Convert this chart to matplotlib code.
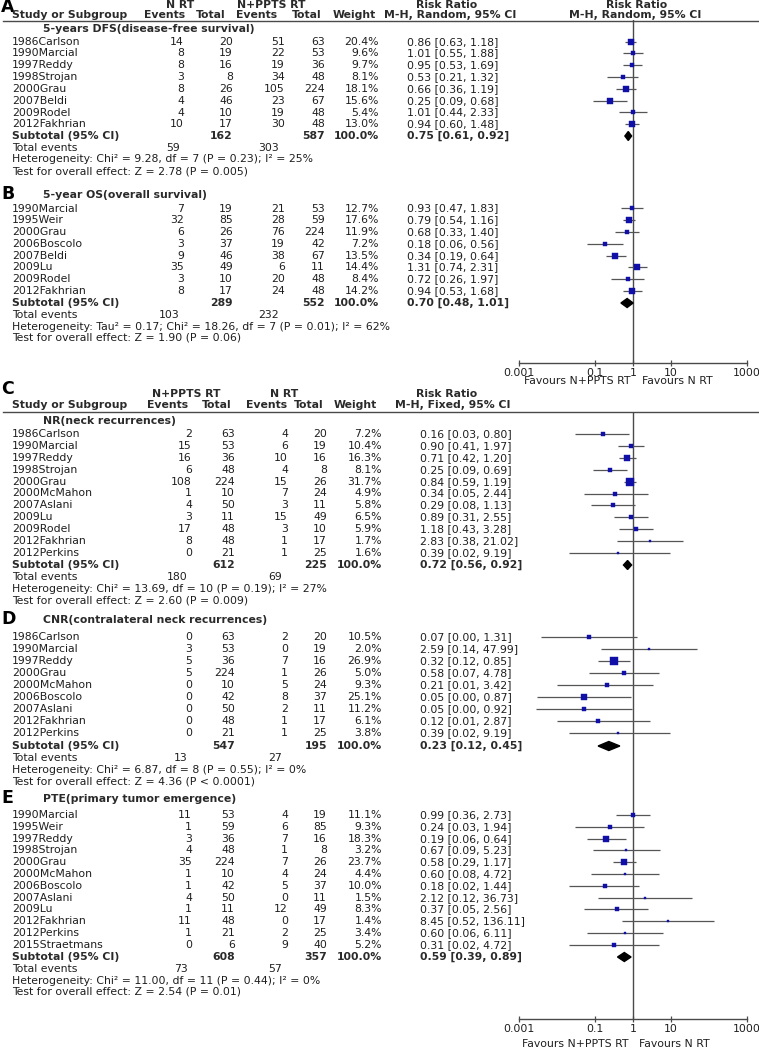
import matplotlib
matplotlib.use('Agg')
import matplotlib.pyplot as plt
import numpy as np
from matplotlib.ticker import NullLocator

plt.rcParams['font.family'] = ['DejaVu Sans']

# ---------------- DATA ----------------
# Panel A: 5-years DFS (N RT vs N+PPTS RT), random effects
a_title = "5-years DFS(disease-free survival)"
a_studies = ["1986Carlson", "1990Marcial", "1997Reddy", "1998Strojan", "2000Grau", "2007Beldi", "2009Rodel", "2012Fakhrian"]
a_ev1 = [14, 8, 8, 3, 8, 4, 4, 10]
a_tot1 = [20, 19, 16, 8, 26, 46, 10, 17]
a_ev2 = [51, 22, 19, 34, 105, 23, 19, 30]
a_tot2 = [63, 53, 36, 48, 224, 67, 48, 48]
a_weight = [20.4, 9.6, 9.7, 8.1, 18.1, 15.6, 5.4, 13.0]
a_rr = [0.86, 1.01, 0.95, 0.53, 0.66, 0.25, 1.01, 0.94]
a_lo = [0.63, 0.55, 0.53, 0.21, 0.36, 0.09, 0.44, 0.60]
a_hi = [1.18, 1.88, 1.69, 1.32, 1.19, 0.68, 2.33, 1.48]
a_sub = [162, 587, 0.75, 0.61, 0.92]
a_events = [59, 303]
a_het = "Heterogeneity: Chi² = 9.28, df = 7 (P = 0.23); I² = 25%"
a_test = "Test for overall effect: Z = 2.78 (P = 0.005)"

# Panel B: 5-year OS
b_title = "5-year OS(overall survival)"
b_studies = ["1990Marcial", "1995Weir", "2000Grau", "2006Boscolo", "2007Beldi", "2009Lu", "2009Rodel", "2012Fakhrian"]
b_ev1 = [7, 32, 6, 3, 9, 35, 3, 8]
b_tot1 = [19, 85, 26, 37, 46, 49, 10, 17]
b_ev2 = [21, 28, 76, 19, 38, 6, 20, 24]
b_tot2 = [53, 59, 224, 42, 67, 11, 48, 48]
b_weight = [12.7, 17.6, 11.9, 7.2, 13.5, 14.4, 8.4, 14.2]
b_rr = [0.93, 0.79, 0.68, 0.18, 0.34, 1.31, 0.72, 0.94]
b_lo = [0.47, 0.54, 0.33, 0.06, 0.19, 0.74, 0.26, 0.53]
b_hi = [1.83, 1.16, 1.40, 0.56, 0.64, 2.31, 1.97, 1.68]
b_sub = [289, 552, 0.70, 0.48, 1.01]
b_events = [103, 232]
b_het = "Heterogeneity: Tau² = 0.17; Chi² = 18.26, df = 7 (P = 0.01); I² = 62%"
b_test = "Test for overall effect: Z = 1.90 (P = 0.06)"

# Panel C: NR (N+PPTS RT vs N RT), fixed effects
c_title = "NR(neck recurrences)"
c_studies = ["1986Carlson", "1990Marcial", "1997Reddy", "1998Strojan", "2000Grau", "2000McMahon", "2007Aslani", "2009Lu", "2009Rodel", "2012Fakhrian", "2012Perkins"]
c_ev1 = [2, 15, 16, 6, 108, 1, 4, 3, 17, 8, 0]
c_tot1 = [63, 53, 36, 48, 224, 10, 50, 11, 48, 48, 21]
c_ev2 = [4, 6, 10, 4, 15, 7, 3, 15, 3, 1, 1]
c_tot2 = [20, 19, 16, 8, 26, 24, 11, 49, 10, 17, 25]
c_weight = [7.2, 10.4, 16.3, 8.1, 31.7, 4.9, 5.8, 6.5, 5.9, 1.7, 1.6]
c_rr = [0.16, 0.90, 0.71, 0.25, 0.84, 0.34, 0.29, 0.89, 1.18, 2.83, 0.39]
c_lo = [0.03, 0.41, 0.42, 0.09, 0.59, 0.05, 0.08, 0.31, 0.43, 0.38, 0.02]
c_hi = [0.80, 1.97, 1.20, 0.69, 1.19, 2.44, 1.13, 2.55, 3.28, 21.02, 9.19]
c_sub = [612, 225, 0.72, 0.56, 0.92]
c_events = [180, 69]
c_het = "Heterogeneity: Chi² = 13.69, df = 10 (P = 0.19); I² = 27%"
c_test = "Test for overall effect: Z = 2.60 (P = 0.009)"

# Panel D: CNR
d_title = "CNR(contralateral neck recurrences)"
d_studies = ["1986Carlson", "1990Marcial", "1997Reddy", "2000Grau", "2000McMahon", "2006Boscolo", "2007Aslani", "2012Fakhrian", "2012Perkins"]
d_ev1 = [0, 3, 5, 5, 0, 0, 0, 0, 0]
d_tot1 = [63, 53, 36, 224, 10, 42, 50, 48, 21]
d_ev2 = [2, 0, 7, 1, 5, 8, 2, 1, 1]
d_tot2 = [20, 19, 16, 26, 24, 37, 11, 17, 25]
d_weight = [10.5, 2.0, 26.9, 5.0, 9.3, 25.1, 11.2, 6.1, 3.8]
d_rr = [0.07, 2.59, 0.32, 0.58, 0.21, 0.05, 0.05, 0.12, 0.39]
d_lo = [0.0037, 0.14, 0.12, 0.07, 0.01, 0.0029, 0.0027, 0.01, 0.02]
d_hi = [1.31, 47.99, 0.85, 4.78, 3.42, 0.87, 0.92, 2.87, 9.19]
d_sub = [547, 195, 0.23, 0.12, 0.45]
d_events = [13, 27]
d_het = "Heterogeneity: Chi² = 6.87, df = 8 (P = 0.55); I² = 0%"
d_test = "Test for overall effect: Z = 4.36 (P < 0.0001)"

# Panel E: PTE
e_title = "PTE(primary tumor emergence)"
e_studies = ["1990Marcial", "1995Weir", "1997Reddy", "1998Strojan", "2000Grau", "2000McMahon", "2006Boscolo", "2007Aslani", "2009Lu", "2012Fakhrian", "2012Perkins", "2015Straetmans"]
e_ev1 = [11, 1, 3, 4, 35, 1, 1, 4, 1, 11, 1, 0]
e_tot1 = [53, 59, 36, 48, 224, 10, 42, 50, 11, 48, 21, 6]
e_ev2 = [4, 6, 7, 1, 7, 4, 5, 0, 12, 0, 2, 9]
e_tot2 = [19, 85, 16, 8, 26, 24, 37, 11, 49, 17, 25, 40]
e_weight = [11.1, 9.3, 18.3, 3.2, 23.7, 4.4, 10.0, 1.5, 8.3, 1.4, 3.4, 5.2]
e_rr = [0.99, 0.24, 0.19, 0.67, 0.58, 0.60, 0.18, 2.12, 0.37, 8.45, 0.60, 0.31]
e_lo = [0.36, 0.03, 0.06, 0.09, 0.29, 0.08, 0.02, 0.12, 0.05, 0.52, 0.06, 0.02]
e_hi = [2.73, 1.94, 0.64, 5.23, 1.17, 4.72, 1.44, 36.73, 2.56, 136.11, 6.11, 4.72]
e_sub = [608, 357, 0.59, 0.39, 0.89]
e_events = [73, 57]
e_het = "Heterogeneity: Chi² = 11.00, df = 11 (P = 0.44); I² = 0%"
e_test = "Test for overall effect: Z = 2.54 (P = 0.01)"

axis_ticks = [0.001, 0.1, 1, 10, 1000]
axis_ticklabels = ["0.001", "0.1", "1", "10", "1000"]
favours_left = "Favours N+PPTS RT"
favours_right = "Favours N RT"

# ---------------- LAYOUT ----------------
W, H = 759, 1053
FS = 7.8
TXT = '#1e1e1e'
HDR = '#2a2a2a'
LINE = '#4a4a4a'
BLUE = '#1010a8'
X0, X1 = 519.3, 746.7

fig = plt.figure(figsize=(W / 100, H / 100), dpi=100)
tx = fig.add_axes([0, 0, 1, 1])
tx.set_xlim(0, W)
tx.set_ylim(H, 0)
tx.axis('off')


def t(x, y, s, ha='left', bold=False, size=FS, color=TXT):
    tx.text(x, y, s, ha=ha, va='center', fontsize=size,
            fontweight='bold' if bold else 'normal', color=color)


def forest_axes(y_top, y_bot):
    ax = fig.add_axes([X0 / W, 1 - y_bot / H, (X1 - X0) / W, (y_bot - y_top) / H])
    ax.set_xscale('log')
    ax.set_xlim(axis_ticks[0], axis_ticks[-1])
    ax.set_ylim(y_bot, y_top)
    ax.patch.set_alpha(0)
    for s in ['top', 'left', 'right']:
        ax.spines[s].set_visible(False)
    ax.spines['bottom'].set_color(LINE)
    ax.spines['bottom'].set_linewidth(1.0)
    ax.set_xticks(axis_ticks)
    ax.set_xticklabels(axis_ticklabels, fontsize=FS, color=TXT)
    ax.xaxis.set_minor_locator(NullLocator())
    ax.tick_params(axis='x', direction='inout', length=4, width=0.9, pad=1.5, color=LINE)
    ax.set_yticks([])
    ax.axvline(1, color=LINE, lw=1.0, zorder=1)
    return ax


def panel(ax, letter, letter_y, title, title_y, row0, step, studies, ev1, tot1, ev2, tot2,
          weight, rr, lo, hi, sub, events, het, test, cols, sub_y, tot_y, het_y, test_y):
    if letter:
        t(1, letter_y, letter, bold=True, size=12.5, color='black')
    t(43, title_y, title, bold=True, color=HDR)
    for i, name in enumerate(studies):
        y = row0 + i * step
        t(12, y, name)
        t(cols[0], y, str(ev1[i]), ha='right')
        t(cols[1], y, str(tot1[i]), ha='right')
        t(cols[2], y, str(ev2[i]), ha='right')
        t(cols[3], y, str(tot2[i]), ha='right')
        t(cols[4], y, f"{weight[i]:.1f}%", ha='right')
        t(cols[5], y, f"{rr[i]:.2f} [{lo[i]:.2f}, {hi[i]:.2f}]")
        ax.hlines(y, lo[i], hi[i], color='#555555', lw=0.9, zorder=2)
        ms = max(1.8, 1.0 * np.sqrt(weight[i]))
        ax.plot([rr[i]], [y], marker='s', ms=ms, color=BLUE, mec=BLUE, mew=0.3, zorder=3)
    # subtotal
    t(12, sub_y, "Subtotal (95% CI)", bold=True, color=HDR)
    t(cols[1], sub_y, str(sub[0]), ha='right', bold=True, color=HDR)
    t(cols[3], sub_y, str(sub[1]), ha='right', bold=True, color=HDR)
    t(cols[4], sub_y, "100.0%", ha='right', bold=True, color=HDR)
    t(cols[5], sub_y, f"{sub[2]:.2f} [{sub[3]:.2f}, {sub[4]:.2f}]", bold=True, color=HDR)
    hd = 4.5
    ax.fill([sub[3], sub[2], sub[4], sub[2]], [sub_y, sub_y - hd, sub_y, sub_y + hd],
            color='black', zorder=3)
    t(12, tot_y, "Total events")
    t(cols[0] - 4, tot_y, str(events[0]), ha='right')
    t(cols[2] - 6, tot_y, str(events[1]), ha='right')
    t(12, het_y, het)
    t(12, test_y, test)


# ---- Top block (A + B) ----
axAB = forest_axes(20.5, 363)
colsAB = [184, 233, 285, 325, 379, 407]
t(1, 7.5, "A", bold=True, size=12.5, color='black')
t(180, 4.8, "N RT", ha='center', bold=True, color=HDR)
t(271, 4.8, "N+PPTS RT", ha='center', bold=True, color=HDR)
t(447, 4.8, "Risk Ratio", ha='center', bold=True, color=HDR)
t(637, 4.8, "Risk Ratio", ha='center', bold=True, color=HDR)
t(12, 15.5, "Study or Subgroup", bold=True, color=HDR)
t(165, 15.5, "Events", ha='center', bold=True, color=HDR)
t(211, 15.5, "Total", ha='center', bold=True, color=HDR)
t(257, 15.5, "Events", ha='center', bold=True, color=HDR)
t(307, 15.5, "Total", ha='center', bold=True, color=HDR)
t(354, 15.5, "Weight", ha='center', bold=True, color=HDR)
t(450, 15.5, "M-H, Random, 95% CI", ha='center', bold=True, color=HDR)
t(635, 15.5, "M-H, Random, 95% CI", ha='center', bold=True, color=HDR)
tx.plot([3, W], [20.5, 20.5], color=LINE, lw=1.0)

panel(axAB, None, 0, a_title, 29.5, 41.7, 11.8, a_studies, a_ev1, a_tot1, a_ev2, a_tot2,
      a_weight, a_rr, a_lo, a_hi, a_sub, a_events, a_het, a_test, colsAB,
      136, 148, 159.5, 171)
panel(axAB, "B", 194, b_title, 195, 208.5, 11.8, b_studies, b_ev1, b_tot1, b_ev2, b_tot2,
      b_weight, b_rr, b_lo, b_hi, b_sub, b_events, b_het, b_test, colsAB,
      303, 315, 326.5, 338)
t(630, 381, favours_left, ha='right')
t(642, 381, favours_right, ha='left')

# ---- Bottom block (C + D + E) ----
axCE = forest_axes(412, 1019)
colsCE = [192, 235, 288, 327, 382, 420]
t(1, 389, "C", bold=True, size=12.5, color='black')
t(186, 394, "N+PPTS RT", ha='center', bold=True, color=HDR)
t(284, 394, "N RT", ha='center', bold=True, color=HDR)
t(447, 394, "Risk Ratio", ha='center', bold=True, color=HDR)
t(12, 405.5, "Study or Subgroup", bold=True, color=HDR)
t(168, 405.5, "Events", ha='center', bold=True, color=HDR)
t(217, 405.5, "Total", ha='center', bold=True, color=HDR)
t(267, 405.5, "Events", ha='center', bold=True, color=HDR)
t(309, 405.5, "Total", ha='center', bold=True, color=HDR)
t(355, 405.5, "Weight", ha='center', bold=True, color=HDR)
t(453, 405.5, "M-H, Fixed, 95% CI", ha='center', bold=True, color=HDR)
tx.plot([3, W], [412, 412], color=LINE, lw=1.0)

panel(axCE, None, 0, c_title, 421, 434, 11.9, c_studies, c_ev1, c_tot1, c_ev2, c_tot2,
      c_weight, c_rr, c_lo, c_hi, c_sub, c_events, c_het, c_test, colsCE,
      565, 577, 589, 600.5)
panel(axCE, "D", 619, d_title, 620, 637, 12.0, d_studies, d_ev1, d_tot1, d_ev2, d_tot2,
      d_weight, d_rr, d_lo, d_hi, d_sub, d_events, d_het, d_test, colsCE,
      746, 758, 770, 781.5)
panel(axCE, "E", 798, e_title, 799.5, 815, 11.8, e_studies, e_ev1, e_tot1, e_ev2, e_tot2,
      e_weight, e_rr, e_lo, e_hi, e_sub, e_events, e_het, e_test, colsCE,
      957, 969, 980.5, 992)
t(628, 1044, favours_left, ha='right')
t(639, 1044, favours_right, ha='left')

fig.savefig('out.png', dpi=100)
